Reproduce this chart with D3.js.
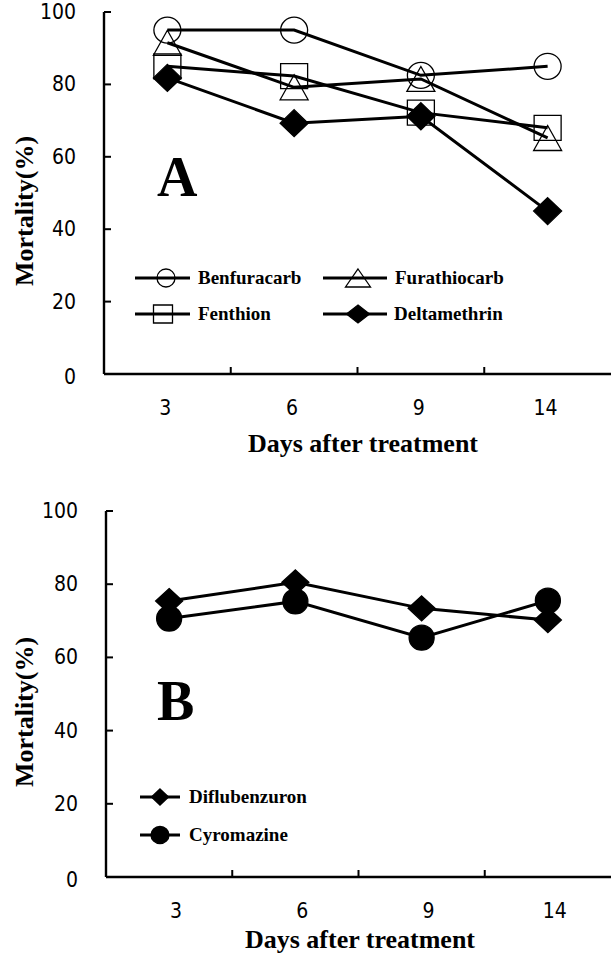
<!DOCTYPE html>
<html>
<head>
<meta charset="utf-8">
<script src="https://cdn.jsdelivr.net/npm/d3@7"></script>
<style>
  html, body { margin: 0; padding: 0; background: #fff; }
  svg { display: block; }
  .tick-num { font-family: "Liberation Sans Narrow", "DejaVu Sans Condensed", "Liberation Sans", Arial, sans-serif; font-size: 21px; fill: #000; }
  .ttl { font-family: "Liberation Serif", "Times New Roman", serif; font-weight: bold; fill: #000; }
</style>
</head>
<body>
<div id="chart"></div>
<script>
// dias despues del tratamiento
const days = ["3", "6", "9", "14"];
const yTicks = [0, 20, 40, 60, 80, 100];

// panel A
const benfuracarb  = [95, 95, 82.5, 85];
const furathiocarb = [91.5, 79.2, 81.5, 65.2];
const fenthion     = [85, 82.3, 72.2, 68];
const deltamethrin = [81.8, 69.3, 71.2, 45];

// panel B
const diflubenzuron = [75.4, 80.5, 73.4, 70.2];
const cyromazine    = [70.6, 75.3, 65.4, 75.5];

const W = 611, H = 958;
const svg = d3.select("#chart").append("svg")
    .attr("width", W)
    .attr("height", H);

// forma de los marcadores, centrada en 0,0
function markerPath(type, w, h) {
    const a = w / 2, b = h / 2;
    if (type === "square") return `M${-a},${-b}H${a}V${b}H${-a}Z`;
    if (type === "triangle") return `M0,${-b}L${a},${b}L${-a},${b}Z`;
    if (type === "diamond") return `M0,${-b}L${a},0L0,${b}L${-a},0Z`;
}

function drawMarker(g, type, filled, w, h, cx, cy) {
    if (type === "circle") {
        g.append("ellipse")
            .attr("cx", cx).attr("cy", cy)
            .attr("rx", w / 2).attr("ry", h / 2)
            .attr("fill", filled ? "#000" : "none")
            .attr("stroke", "#000")
            .attr("stroke-width", 1.3);
        return;
    }
    g.append("path")
        .attr("d", markerPath(type, w, h))
        .attr("transform", `translate(${cx},${cy})`)
        .attr("fill", filled ? "#000" : "none")
        .attr("stroke", "#000")
        .attr("stroke-width", 1.3)
        .attr("stroke-linejoin", "miter");
}

function drawPanel(p) {
    const g = svg.append("g");

    const x = d3.scaleBand().domain(days).range([p.left, W]);
    const y = d3.scaleLinear().domain([0, 100]).range([p.bottom, p.top]);
    const cx = d => x(d) + x.bandwidth() / 2;

    // eje y
    g.append("line")
        .attr("x1", p.left).attr("x2", p.left)
        .attr("y1", y(100)).attr("y2", y(0))
        .attr("stroke", "#000").attr("stroke-width", 2.4);
    yTicks.forEach(t => {
        if (t > 0) {
            g.append("line")
                .attr("x1", p.left).attr("x2", p.left + 7)
                .attr("y1", y(t)).attr("y2", y(t))
                .attr("stroke", "#000").attr("stroke-width", 2);
        }
        g.append("text")
            .attr("class", "tick-num")
            .attr("x", p.left - 28)
            .attr("y", y(t) + (t === 0 ? 10 : 7))
            .attr("text-anchor", "end")
            .text(t);
    });

    // eje x
    g.append("line")
        .attr("x1", p.left).attr("x2", W)
        .attr("y1", y(0)).attr("y2", y(0))
        .attr("stroke", "#000").attr("stroke-width", 2.4);
    days.slice(1).forEach(d => {
        g.append("line")
            .attr("x1", x(d)).attr("x2", x(d))
            .attr("y1", y(0)).attr("y2", y(0) - 7)
            .attr("stroke", "#000").attr("stroke-width", 2);
    });
    days.forEach(d => {
        g.append("text")
            .attr("class", "tick-num")
            .attr("x", cx(d) + p.labelDx)
            .attr("y", y(0) + 41)
            .attr("text-anchor", "middle")
            .text(d);
    });

    // titulos
    g.append("text")
        .attr("class", "ttl")
        .attr("x", p.xTitleX).attr("y", p.xTitleY)
        .attr("text-anchor", "middle")
        .style("font-size", "26px")
        .text("Days after treatment");
    g.append("text")
        .attr("class", "ttl")
        .attr("transform", `translate(33,${p.yTitleY}) rotate(-90)`)
        .attr("text-anchor", "middle")
        .style("font-size", "26px")
        .text("Mortality(%)");
    g.append("text")
        .attr("class", "ttl")
        .attr("x", 157).attr("y", p.letterY)
        .style("font-size", "56px")
        .text(p.letter);

    // series
    const line = d3.line()
        .x((d, i) => cx(days[i]))
        .y(d => y(d));

    p.series.forEach(s => {
        s.values.forEach((v, i) => drawMarker(g, s.shape, s.filled, s.w, s.h, cx(days[i]), y(v)));
    });
    p.series.forEach(s => {
        g.append("path")
            .attr("d", line(s.values))
            .attr("fill", "none")
            .attr("stroke", "#000")
            .attr("stroke-width", 3);
    });

    // leyenda
    p.legend.forEach(l => {
        const s = p.series.find(k => k.name === l.name);
        g.append("line")
            .attr("x1", l.x1).attr("x2", l.x2)
            .attr("y1", l.y).attr("y2", l.y)
            .attr("stroke", "#000").attr("stroke-width", 3);
        drawMarker(g, s.shape, s.filled, l.w, l.h, l.mx, l.y);
        g.append("text")
            .attr("class", "ttl")
            .attr("x", l.tx).attr("y", l.y + 6)
            .style("font-size", "19px")
            .text(l.name);
    });
}

drawPanel({
    left: 104, top: 12, bottom: 374, labelDx: -2,
    xTitleX: 363, xTitleY: 452, yTitleY: 211,
    letter: "A", letterY: 196,
    series: [
        { name: "Benfuracarb", values: benfuracarb, shape: "circle", filled: false, w: 27, h: 26 },
        { name: "Furathiocarb", values: furathiocarb, shape: "triangle", filled: false, w: 28, h: 25 },
        { name: "Fenthion", values: fenthion, shape: "square", filled: false, w: 27, h: 25 },
        { name: "Deltamethrin", values: deltamethrin, shape: "diamond", filled: true, w: 28, h: 27 }
    ],
    legend: [
        { name: "Benfuracarb", x1: 135, x2: 190, mx: 166, y: 278, w: 18, h: 18, tx: 198 },
        { name: "Furathiocarb", x1: 323, x2: 387, mx: 358, y: 278, w: 25, h: 18, tx: 395 },
        { name: "Fenthion", x1: 135, x2: 190, mx: 163, y: 314, w: 19, h: 18, tx: 198 },
        { name: "Deltamethrin", x1: 323, x2: 387, mx: 358, y: 314, w: 23, h: 18, tx: 394 }
    ]
});

drawPanel({
    left: 106, top: 511, bottom: 877, labelDx: 7,
    xTitleX: 360, xTitleY: 948, yTitleY: 712,
    letter: "B", letterY: 720,
    series: [
        { name: "Diflubenzuron", values: diflubenzuron, shape: "diamond", filled: true, w: 27, h: 25 },
        { name: "Cyromazine", values: cyromazine, shape: "circle", filled: true, w: 25, h: 25 }
    ],
    legend: [
        { name: "Diflubenzuron", x1: 140, x2: 180, mx: 160, y: 797, w: 17, h: 16, tx: 189 },
        { name: "Cyromazine", x1: 140, x2: 180, mx: 160, y: 835, w: 18, h: 17, tx: 189 }
    ]
});
</script>
</body>
</html>
